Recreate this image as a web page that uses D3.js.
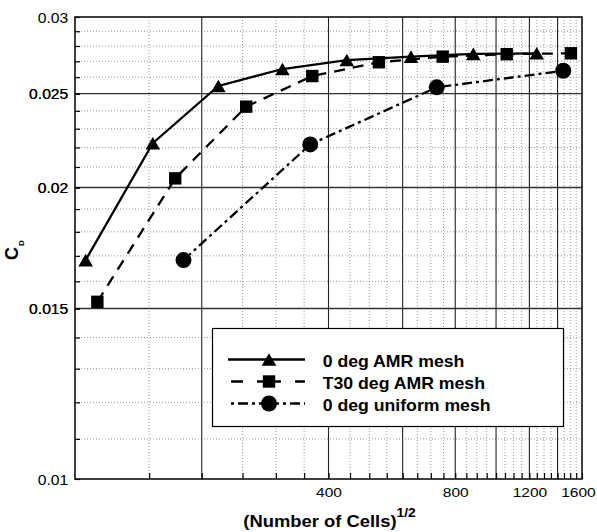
<!DOCTYPE html>
<html>
<head>
<meta charset="utf-8">
<script src="https://cdn.jsdelivr.net/npm/d3@7"></script>
<style>
  html, body { margin: 0; padding: 0; background: #fff; }
  svg { display: block; font-family: "Liberation Sans", Arial, Helvetica, sans-serif; }
</style>
</head>
<body>
<svg id="chart" width="597" height="532"></svg>
<script>
// Drag coefficient convergence versus mesh size
const amrCells = [106, 153, 219, 311, 442, 628, 883, 1249];
const amrCd    = [0.01683, 0.02222, 0.02546, 0.02651, 0.02708, 0.02730, 0.02748, 0.02752];

const t30Cells = [113, 173, 255, 366, 527, 747, 1060, 1506];
const t30Cd    = [0.01524, 0.02044, 0.02424, 0.02607, 0.02694, 0.02730, 0.02746, 0.02752];

const uniCells = [181, 362, 723, 1444];
const uniCd    = [0.01683, 0.02216, 0.02538, 0.02640];

const seriesNames = ["0 deg AMR mesh", "T30 deg AMR mesh", "0 deg uniform mesh"];

const xTickLabels = [400, 800, 1200, 1600];
const yTickLabels = [0.01, 0.015, 0.02, 0.025, 0.03];
const xMajorGrid = [200, 400, 600, 800, 1000, 1200, 1400];
const yMajorGrid = [0.015, 0.02, 0.025];

const svg = d3.select("#chart");
const pLeft = 75, pRight = 582, pTop = 17, pBottom = 479;

const x = d3.scaleLog().domain([100, 1600]).range([pLeft, pRight]);
const y = d3.scaleLog().domain([0.01, 0.03]).range([pBottom, pTop]);

const xMinor = d3.range(150, 1600, 50);
const yMinor = d3.range(11, 30).map(v => v / 1000);

// minor dotted grid
const grid = svg.append("g");
grid.selectAll(".vmin").data(xMinor.filter(v => v % 200 !== 0)).join("line")
  .attr("x1", d => x(d)).attr("x2", d => x(d))
  .attr("y1", pTop).attr("y2", pBottom)
  .attr("stroke", "#9a9a9a").attr("stroke-width", 1).attr("stroke-dasharray", "1,2");
grid.selectAll(".hmin").data(yMinor.filter(v => !yMajorGrid.some(m => Math.abs(m - v) < 1e-9))).join("line")
  .attr("x1", pLeft).attr("x2", pRight)
  .attr("y1", d => y(d)).attr("y2", d => y(d))
  .attr("stroke", "#9a9a9a").attr("stroke-width", 1).attr("stroke-dasharray", "1,2");

// major solid grid
grid.selectAll(".vmaj").data(xMajorGrid).join("line")
  .attr("x1", d => x(d)).attr("x2", d => x(d))
  .attr("y1", pTop).attr("y2", pBottom)
  .attr("stroke", "#222").attr("stroke-width", 1.1);
grid.selectAll(".hmaj").data(yMajorGrid).join("line")
  .attr("x1", pLeft).attr("x2", pRight)
  .attr("y1", d => y(d)).attr("y2", d => y(d))
  .attr("stroke", "#333").attr("stroke-width", 1.4);

// axes with inward ticks
const xAxis = d3.axisBottom(x)
  .tickValues(xMinor.concat([1600]))
  .tickSize(-6).tickSizeOuter(0)
  .tickFormat(d => xTickLabels.includes(d) ? String(d) : "");
const gx = svg.append("g").attr("transform", `translate(0,${pBottom})`).call(xAxis);
gx.select(".domain").remove();
gx.selectAll(".tick line").attr("stroke", "#000").attr("stroke-width", 1.2);
gx.selectAll(".tick text")
  .attr("y", 18).attr("dy", 0)
  .attr("x", d => d === 1600 ? -3.5 : 0)
  .attr("font-size", 13.5).attr("fill", "#000")
  .attr("transform", "scale(1.15,1)");

const yAxis = d3.axisLeft(y)
  .tickValues(yMinor.concat(yTickLabels))
  .tickSize(-5).tickSizeOuter(0)
  .tickFormat(d => yTickLabels.some(v => Math.abs(v - d) < 1e-9) ? String(+d.toFixed(3)) : "");
const gy = svg.append("g").attr("transform", `translate(${pLeft},0)`).call(yAxis);
gy.select(".domain").remove();
gy.selectAll(".tick line").attr("stroke", "#000").attr("stroke-width", 1.2);
gy.selectAll(".tick text")
  .attr("x", -6).attr("dy", "0.36em")
  .attr("font-size", 14).attr("fill", "#000")
  .attr("transform", "scale(1.12,1)");

// frame
svg.append("rect")
  .attr("x", pLeft).attr("y", pTop)
  .attr("width", pRight - pLeft).attr("height", pBottom - pTop)
  .attr("fill", "none").attr("stroke", "#111").attr("stroke-width", 1.6);

// series
const styles = [
  { cells: amrCells, cd: amrCd, dash: null, marker: "triangle" },
  { cells: t30Cells, cd: t30Cd, dash: "11,8", marker: "square" },
  { cells: uniCells, cd: uniCd, dash: "10,4,3,4", marker: "circle" }
];

function drawMarker(g, kind, cx, cy) {
  if (kind === "triangle") {
    g.append("path")
      .attr("d", `M${cx - 7.3},${cy + 6.3}L${cx + 7.3},${cy + 6.3}L${cx},${cy - 6.3}Z`)
      .attr("fill", "#000");
  } else if (kind === "square") {
    g.append("rect").attr("x", cx - 6.2).attr("y", cy - 6.2)
      .attr("width", 12.4).attr("height", 12.4).attr("fill", "#000");
  } else {
    g.append("circle").attr("cx", cx).attr("cy", cy).attr("r", 8).attr("fill", "#000");
  }
}

const line = d3.line().x(d => x(d[0])).y(d => y(d[1]));
const plot = svg.append("g");
styles.forEach(s => {
  const pts = s.cells.map((c, i) => [c, s.cd[i]]);
  plot.append("path").datum(pts)
    .attr("d", line)
    .attr("fill", "none").attr("stroke", "#000").attr("stroke-width", 2.3)
    .attr("stroke-dasharray", s.dash);
  pts.forEach(p => drawMarker(plot, s.marker, x(p[0]), y(p[1])));
});

// legend
const lg = svg.append("g");
lg.append("rect")
  .attr("x", 212.5).attr("y", 328.5).attr("width", 351).attr("height", 98)
  .attr("fill", "#fff").attr("stroke", "#000").attr("stroke-width", 1.2);
const rowsY = [359.5, 381.5, 403.5];
const legendDash = [null, "12,14", "10,4,3,4"];
styles.forEach((s, i) => {
  const ry = rowsY[i];
  const mx = 269;
  // draw each half outward from the marker so the pattern is symmetric
  [[mx, 228], [mx, 305]].forEach(([a, b]) => {
    lg.append("line").attr("x1", a).attr("x2", b).attr("y1", ry).attr("y2", ry)
      .attr("stroke", "#000").attr("stroke-width", 2.3)
      .attr("stroke-dasharray", legendDash[i]);
  });
  drawMarker(lg, s.marker, mx, ry);
  lg.append("text")
    .attr("transform", `translate(322.7,${ry + 7}) scale(1.04,1)`)
    .attr("font-size", 17).attr("font-weight", "bold").attr("fill", "#000")
    .text(seriesNames[i]);
});

// axis titles
const xt = svg.append("text")
  .attr("transform", `translate(${(pLeft + pRight) / 2 + 1},527) scale(1.15,1)`)
  .attr("text-anchor", "middle")
  .attr("font-size", 16).attr("font-weight", "bold").attr("fill", "#000");
xt.append("tspan").text("(Number of Cells)");
xt.append("tspan").attr("font-size", 12).attr("dy", -10).text("1/2");

const yt = svg.append("text")
  .attr("transform", "translate(17.5,250) rotate(-90)")
  .attr("text-anchor", "middle")
  .attr("font-size", 18).attr("font-weight", "bold").attr("fill", "#000");
yt.append("tspan").text("C");
yt.append("tspan").attr("font-size", 8).attr("dy", 6).attr("dx", 1).text("D");
</script>
</body>
</html>
